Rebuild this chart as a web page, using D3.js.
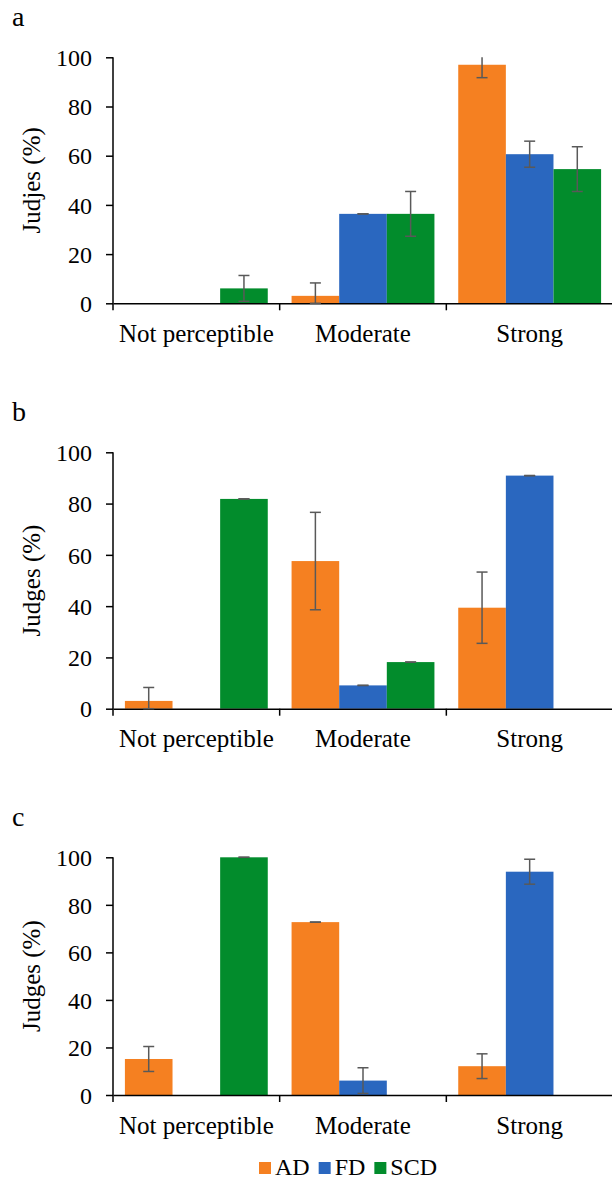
<!DOCTYPE html>
<html>
<head>
<meta charset="utf-8">
<script src="https://cdn.jsdelivr.net/npm/d3@7"></script>
<style>
  body { margin: 0; background: #fff; }
</style>
</head>
<body>
<svg id="chart" width="612" height="1188"></svg>
<script>
// data
var categories = ["Not perceptible", "Moderate", "Strong"];
var seriesNames = ["AD", "FD", "SCD"];
var seriesColors = ["#f58021", "#2a67bf", "#028c2c"];
var yTicks = [0, 20, 40, 60, 80, 100];

var panelLetters = ["a", "b", "c"];
var yTitles = ["Judjes (%)", "Judges (%)", "Judges (%)"];

// panel a
var aAD = [0, 3.03, 96.97];
var aFD = [0, 36.36, 60.61];
var aSCD = [6.06, 36.36, 54.55];
var aErrAD = [0, 5.25, 5.25];
var aErrFD = [0, 0, 5.3];
var aErrSCD = [5.25, 9.1, 9.1];
// panel b
var bAD = [3.03, 57.58, 39.39];
var bFD = [0, 9.09, 90.91];
var bSCD = [81.82, 18.18, 0];
var bErrAD = [5.25, 19, 13.9];
var bErrFD = [0, 0, 0];
var bErrSCD = [0, 0, 0];
// panel c
var cAD = [15.15, 72.73, 12.12];
var cFD = [0, 6.06, 93.94];
var cSCD = [100, 0, 0];
var cErrAD = [5.25, 0, 5.2];
var cErrFD = [0, 5.4, 5.25];
var cErrSCD = [0, 0, 0];

var panelValues = [[aAD, aFD, aSCD], [bAD, bFD, bSCD], [cAD, cFD, cSCD]];
var panelErrors = [[aErrAD, aErrFD, aErrSCD], [bErrAD, bErrFD, bErrSCD], [cErrAD, cErrFD, cErrSCD]];

// layout of each panel: pixel y of value 100 and value 0
var panelTops = [57.3, 452.3, 857.3];
var panelBottoms = [303.3, 708.7, 1095];

var FONT = "'Liberation Serif', 'DejaVu Serif', Tinos, 'Times New Roman', serif";

var svg = d3.select("#chart").attr("font-family", FONT);
var xLeft = 113, xRight = 613;

var xScale = d3.scaleBand()
    .domain(categories)
    .range([xLeft, xRight])
    .paddingInner(0)
    .paddingOuter(0);
var inner = d3.scaleBand()
    .domain(seriesNames)
    .range([0, xScale.bandwidth()])
    .paddingOuter(0.25)
    .paddingInner(0);

function drawPanel(p) {
    var yScale = d3.scaleLinear().domain([0, 100]).range([panelBottoms[p], panelTops[p]]);
    var g = svg.append("g").attr("class", "panel");

    // panel letter
    g.append("text")
        .attr("x", 12)
        .attr("y", panelTops[p] - 31)
        .style("font-family", FONT)
        .style("font-size", "28px")
        .text(panelLetters[p]);

    // bars
    var rows = [];
    seriesNames.forEach(function (s, si) {
        categories.forEach(function (c, ci) {
            rows.push({
                cat: c, series: s, color: seriesColors[si],
                value: panelValues[p][si][ci], err: panelErrors[p][si][ci]
            });
        });
    });

    g.append("g").selectAll("rect")
        .data(rows.filter(function (d) { return d.value > 0; }))
        .enter()
        .append("rect")
        .attr("x", function (d) { return xScale(d.cat) + inner(d.series); })
        .attr("width", inner.bandwidth())
        .attr("y", function (d) { return yScale(d.value); })
        .attr("height", function (d) { return yScale(0) - yScale(d.value); })
        .attr("fill", function (d) { return d.color; });

    // y axis
    var yAxis = d3.axisLeft(yScale).tickValues(yTicks).tickSize(7).tickPadding(14);
    var yG = g.append("g").attr("transform", "translate(" + xLeft + ",0)").call(yAxis);
    yG.attr("font-family", null).attr("font-size", null);
    yG.select(".domain").remove();
    yG.selectAll("line").attr("stroke", "#000").attr("stroke-width", 1.5);
    yG.selectAll("text")
        .style("font-family", FONT)
        .style("font-size", "24px")
        .attr("fill", "#000")
        .attr("dy", "0.34em");
    g.append("line")
        .attr("x1", xLeft).attr("x2", xLeft)
        .attr("y1", yScale(100)).attr("y2", yScale(0) + 7)
        .attr("stroke", "#000").attr("stroke-width", 1.5);

    // x axis
    var xAxis = d3.axisBottom(xScale).tickSize(0).tickPadding(21);
    var xG = g.append("g").attr("transform", "translate(0," + yScale(0) + ")").call(xAxis);
    xG.attr("font-family", null).attr("font-size", null);
    xG.select(".domain").attr("stroke", "#000").attr("stroke-width", 1.5);
    xG.selectAll("text")
        .style("font-family", FONT)
        .style("font-size", "25px")
        .attr("fill", "#000")
        .attr("dy", "0.71em");
    g.append("g").selectAll("line")
        .data(categories.slice(1))
        .enter()
        .append("line")
        .attr("x1", function (d) { return xScale(d); })
        .attr("x2", function (d) { return xScale(d); })
        .attr("y1", yScale(0)).attr("y2", yScale(0) + 7)
        .attr("stroke", "#000").attr("stroke-width", 1.5);

    // error bars
    var capW = 11;
    var eg = g.append("g").attr("stroke", "#595959").attr("stroke-width", 1.5);
    rows.forEach(function (d) {
        if (d.value === 0 && d.err === 0) return;
        var cx = xScale(d.cat) + inner(d.series) + inner.bandwidth() / 2;
        var hi = d.value + d.err, lo = Math.max(0, d.value - d.err);
        var clipped = hi > 100;
        if (clipped) hi = 100;
        eg.append("line").attr("x1", cx).attr("x2", cx)
            .attr("y1", yScale(hi)).attr("y2", yScale(lo));
        if (!clipped) {
            eg.append("line").attr("x1", cx - capW / 2).attr("x2", cx + capW / 2)
                .attr("y1", yScale(hi)).attr("y2", yScale(hi));
        }
        eg.append("line").attr("x1", cx - capW / 2).attr("x2", cx + capW / 2)
            .attr("y1", yScale(lo)).attr("y2", yScale(lo));
    });

    // y title
    var midY = (panelTops[p] + panelBottoms[p]) / 2;
    g.append("text")
        .attr("transform", "translate(40," + midY + ") rotate(-90)")
        .attr("text-anchor", "middle")
        .style("font-family", FONT)
        .style("font-size", "25px")
        .text(yTitles[p]);
}

for (var p = 0; p < 3; p++) drawPanel(p);

// legend
var legend = svg.append("g").attr("transform", "translate(259,1162)");
var lx = 0;
seriesNames.forEach(function (s, i) {
    legend.append("rect").attr("x", lx).attr("y", 0).attr("width", 12).attr("height", 12)
        .attr("fill", seriesColors[i]);
    var t = legend.append("text").attr("x", lx + 16).attr("y", 12.5)
        .style("font-family", FONT)
        .style("font-size", "24px").text(s);
    lx += 16 + t.node().getComputedTextLength() + 9;
});
</script>
</body>
</html>
